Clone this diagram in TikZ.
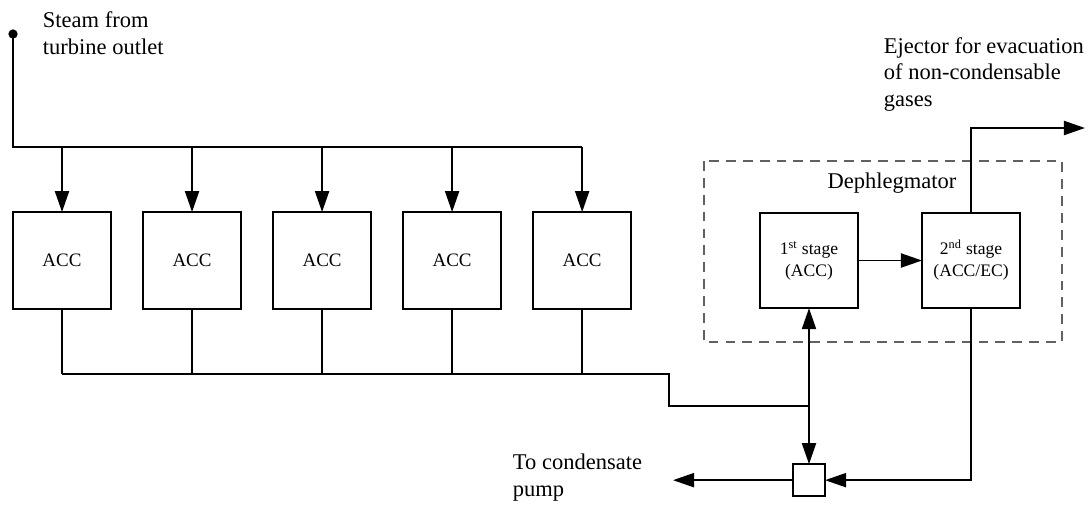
\documentclass[tikz,border=0pt]{standalone}
\usepackage{fontspec}
\setmainfont{Liberation Serif}
\usetikzlibrary{positioning,calc,arrows.meta}
\definecolor{framegray}{rgb}{0.38,0.38,0.38}

\begin{document}
\begin{tikzpicture}[x=0.025cm,y=-0.025cm,line width=1.4pt,
  unit/.style={rectangle,draw,outer sep=0pt,minimum width=2.45cm,minimum height=2.42cm,font=\fontsize{13.5}{16}\selectfont},
  stagebox/.style={unit,minimum height=2.38cm,align=center,font=\fontsize{12.5}{15.6}\selectfont},
  flow/.style={-{Triangle[length=15pt,width=10pt]}},
  lbl/.style={align=left,inner sep=0pt,font=\fontsize{16}{18.8}\selectfont}]
\useasboundingbox (0,0) rectangle (1092,508);

\node[unit] (acc1) at (62,260.5) {ACC};
\foreach \i [count=\j from 2] in {1,...,4}
  \node[unit,right=0.8cm of acc\i] (acc\j) {ACC};

\draw[framegray,line width=1pt,dash pattern=on 7pt off 5pt] (704,161) rectangle (1062,342);
\node[lbl] (dlbl) at (892,183) {Dephlegmator};
\node[stagebox] (st1) at (809,260.5) {1\textsuperscript{st} stage\\(ACC)};
\node[stagebox,right=1.6cm of st1] (st2) {2\textsuperscript{nd} stage\\(ACC/EC)};
\node[draw,outer sep=0pt,minimum size=0.8cm,below=3.9cm of st1] (mix) {};

\coordinate (steam) at (13,34);
\coordinate (bus) at (13,147);
\coordinate (c1) at (669,374);
\coordinate (c2) at (669,406);
\coordinate (ej) at (1085,128);
\coordinate[left=3cm of mix] (pump);

\fill (steam) circle (3.3pt);
\draw (steam) -- (bus) -- (bus -| acc5.north);
\foreach \i in {1,...,5} {
  \draw[flow] (acc\i.north |- bus) -- (acc\i.north);
  \draw (acc\i.south) -- (acc\i.south |- c1);
}
\draw (acc1.south |- c1) -- (c1) -- (c2) -- (c2 -| st1);
\draw[flow] (c2 -| st1) -- (st1.south);
\draw[flow] (c2 -| st1) -- (mix.north);
\draw[flow] (st1) -- (st2);
\draw[flow] (st2.north) |- (ej);
\draw[flow] (st2.south) |- (mix.east);
\draw[flow] (mix.west) -- (pump);

\node[lbl,anchor=west] (steamlbl) at (42,33) {Steam from\\turbine outlet};
\node[lbl,anchor=west] (ejlbl) at (883,74.5) {Ejector for evacuation\\of non-condensable\\gases};
\node[lbl,anchor=west] (pumplbl) at (512,477.5) {To condensate\\pump};
\end{tikzpicture}
\end{document}
